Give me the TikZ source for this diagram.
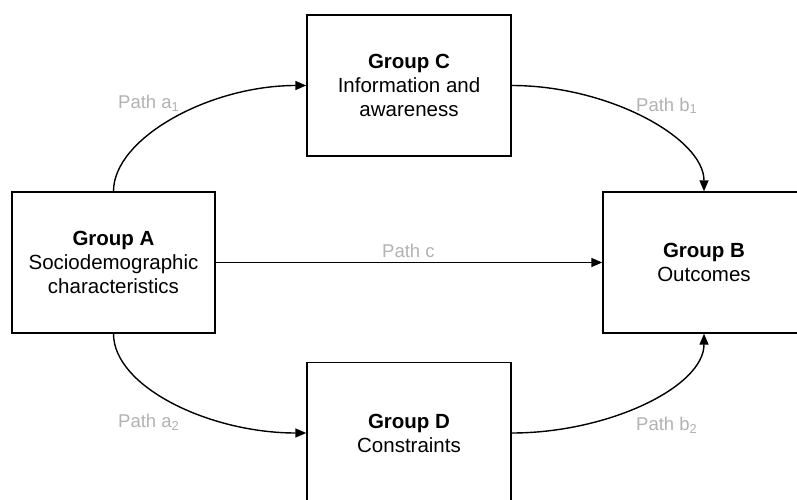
\documentclass[tikz,border=0pt]{standalone}
\usepackage{fontspec}
\setmainfont{Liberation Sans}
\usetikzlibrary{arrows.meta}
\definecolor{labelgray}{RGB}{178,178,178}
\tikzset{
  groupbox/.style={draw=black, line width=1.4pt, minimum width=204pt, minimum height=141pt,
    inner sep=0pt, align=center, font=\fontsize{20.5pt}{24pt}\selectfont},
  conn/.style={line width=1.4pt, -{Triangle[length=11pt,width=9pt]}},
  pathlabel/.style={anchor=base west, inner sep=0pt, text=labelgray, font=\fontsize{18.5pt}{22pt}\selectfont}
}
\begin{document}
\begin{tikzpicture}[x=1pt, y=-1pt]
\useasboundingbox (0,0) rectangle (797,500);
\node[groupbox, minimum width=203pt] (A) at (113.5,262.5) {\textbf{Group A}\\Sociodemographic\\characteristics};
\node[groupbox] (C) at (409,85.5) {\textbf{Group C}\\Information and\\awareness};
\node[groupbox, minimum width=202pt] (B) at (704,262.5) {\textbf{Group B}\\Outcomes};
\node[groupbox] (D) at (409,433) {\textbf{Group D}\\Constraints};

\draw[conn] (A.north) .. controls +(0,-53) and +(-97,0) .. (C.west);
\draw[conn] (C.east) .. controls +(97,0) and +(0,-53) .. (B.north);
\draw[conn] (A.east) -- (B.west);
\draw[conn] (A.south) .. controls +(0,53) and +(-97,0) .. (D.west);
\draw[conn] (D.east) .. controls +(97,0) and +(0,53) .. (B.south);

\node[pathlabel] (la1) at (118,109) {Path a\textsubscript{1}};
\node[pathlabel] (lb1) at (636,111) {Path b\textsubscript{1}};
\node[pathlabel] (lc) at (382,257) {Path c};
\node[pathlabel] (la2) at (118,427) {Path a\textsubscript{2}};
\node[pathlabel] (lb2) at (636,430) {Path b\textsubscript{2}};
\end{tikzpicture}
\end{document}
